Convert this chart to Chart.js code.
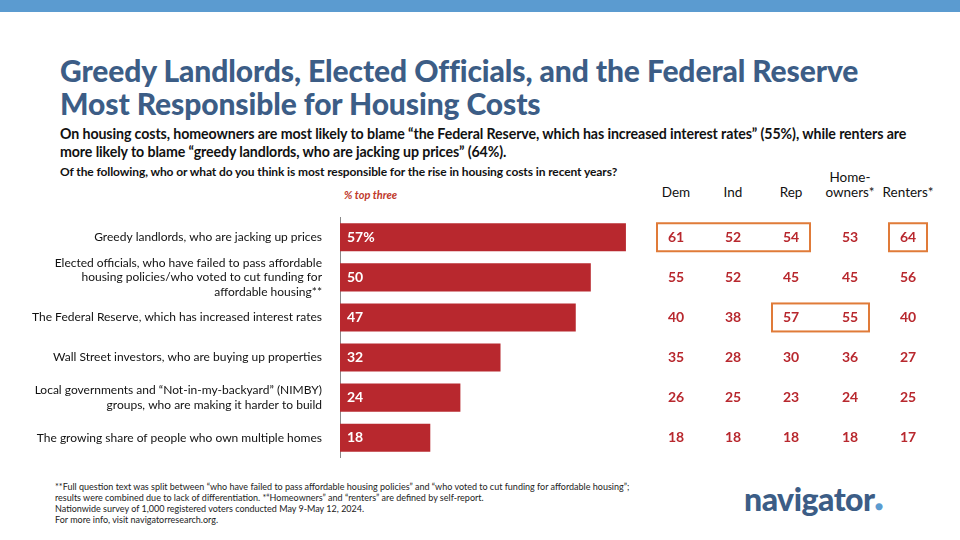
<!DOCTYPE html>
<html><head><meta charset="utf-8">
<script src="https://cdn.jsdelivr.net/npm/chart.js@4"></script>
<style>
body{margin:0;width:960px;height:540px;overflow:hidden;background:#fff;font-family:Lato,sans-serif;position:relative}
.band{position:absolute;left:0;top:0;width:960px;height:12px;background:#5b9bd0}
.t{position:absolute;left:60px;top:54px;font-weight:900;font-size:30px;line-height:33px;color:#3c5d86;letter-spacing:-0.1px}
.s{position:absolute;left:60px;top:125px;font-weight:700;font-size:14.2px;line-height:18px;color:#111;width:890px;letter-spacing:-0.1px}
.q{position:absolute;left:60px;top:164px;font-weight:700;font-size:12px;color:#111;letter-spacing:-0.1px}
.h{position:absolute;font-size:13.5px;color:#111;text-align:center;line-height:15px}
.pt{position:absolute;left:344px;top:188px;font-size:11px;font-style:italic;font-weight:700;color:#c0392b}
.f{position:absolute;left:55px;top:481px;font-size:9px;line-height:11px;color:#222}
.logo{position:absolute;left:744px;top:479px;font-size:32px;font-weight:900;color:#3c5d86;letter-spacing:-0.5px}
.logo span{color:#5b9bd0;font-size:14px}
canvas{position:absolute;left:0;top:200px}
</style></head><body>
<div class="band"></div>
<div class="t">Greedy Landlords, Elected Officials, and the Federal Reserve<br>Most Responsible for Housing Costs</div>
<div class="s">On housing costs, homeowners are most likely to blame “the Federal Reserve, which has increased interest rates” (55%), while renters are<br>more likely to blame “greedy landlords, who are jacking up prices” (64%).</div>
<div class="q">Of the following, who or what do you think is most responsible for the rise in housing costs in recent years?</div>
<div class="pt">% top three</div>
<div class="h" style="left:656px;top:185px;width:40px">Dem</div>
<div class="h" style="left:713px;top:185px;width:40px">Ind</div>
<div class="h" style="left:771px;top:185px;width:40px">Rep</div>
<div class="h" style="left:820px;top:170px;width:60px">Home-<br>owners*</div>
<div class="h" style="left:880px;top:185px;width:56px">Renters*</div>
<div class="f">**Full question text was split between “who have failed to pass affordable housing policies” and “who voted to cut funding for affordable housing”;<br>results were combined due to lack of differentiation. *“Homeowners” and “renters” are defined by self-report.<br>Nationwide survey of 1,000 registered voters conducted May 9-May 12, 2024.<br>For more info, visit navigatorresearch.org.</div>
<div class="logo">navigator<span>●</span></div>
<canvas id="c" width="960" height="275"></canvas>
<script>
const categories=[
 ["Greedy landlords, who are jacking up prices"],
 ["Elected officials, who have failed to pass affordable","housing policies/who voted to cut funding for","affordable housing**"],
 ["The Federal Reserve, which has increased interest rates"],
 ["Wall Street investors, who are buying up properties"],
 ["Local governments and “Not-in-my-backyard” (NIMBY)","groups, who are making it harder to build"],
 ["The growing share of people who own multiple homes"]];
const totalValues=[57,50,47,32,24,18];
const dem=[61,55,40,35,26,18];
const ind=[52,52,38,28,25,18];
const rep=[54,45,57,30,23,18];
const homeowners=[53,45,55,36,24,18];
const renters=[64,56,40,27,25,17];
const colX=[676,733,791,850,908];
const cols=[dem,ind,rep,homeowners,renters];
const red='#b8282e';
const tablePlugin={id:'tbl',afterDatasetsDraw(ch){
 const c=ch.ctx,y=ch.scales.y,x=ch.scales.x;
 c.save();
 c.textBaseline='middle';
 totalValues.forEach((v,i)=>{
  const py=y.getPixelForValue(i);
  c.fillStyle='#fff';c.textAlign='left';c.font='bold 14px Lato';
  c.fillText(i===0?v+'%':v,x.getPixelForValue(0)+7,py);
  c.fillStyle=red;c.textAlign='center';
  cols.forEach((arr,j)=>c.fillText(arr[i],colX[j],py));
 });
 c.strokeStyle='#e07b39';c.lineWidth=2;
 const box=(a,b,i)=>{const py=y.getPixelForValue(i);c.strokeRect(colX[a]-19,py-14,colX[b]-colX[a]+38,28);};
 box(0,2,0);box(4,4,0);box(2,3,2);
 c.restore();
}};
new Chart(document.getElementById('c'),{type:'bar',
 data:{labels:categories,datasets:[{data:totalValues,backgroundColor:red,barPercentage:0.7,categoryPercentage:1}]},
 options:{indexAxis:'y',responsive:false,animation:false,
  layout:{padding:{right:309,left:0,top:0,bottom:0}},
  plugins:{legend:{display:false},tooltip:{enabled:false}},
  scales:{x:{display:false,min:0,max:62},
   y:{afterFit(s){s.width=340;},grid:{display:false},border:{display:true,color:'#888'},
      ticks:{autoSkip:false,color:'#111',font:{family:'Lato',size:12},padding:10,crossAlign:'near'}}}},
 plugins:[tablePlugin]});
</script>
</body></html>
